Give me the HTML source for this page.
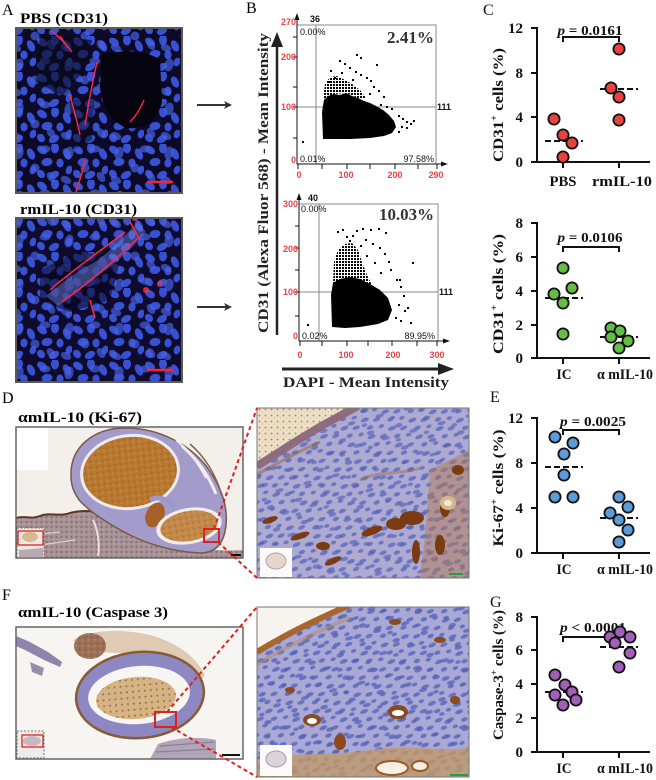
<!DOCTYPE html>
<html><head><meta charset="utf-8">
<style>
html,body{margin:0;padding:0;background:#fff;}
svg{display:block;}
</style></head><body>
<svg width="656" height="780" viewBox="0 0 656 780" xmlns="http://www.w3.org/2000/svg">
<defs>
 <pattern id="nA" width="36" height="36" patternUnits="userSpaceOnUse">
  <g fill="#3850d2">
   <ellipse cx="6" cy="6" rx="5.5" ry="3.6" transform="rotate(35 6 6)"/>
   <ellipse cx="19" cy="4" rx="4" ry="5.5"/>
   <ellipse cx="31" cy="10" rx="3.6" ry="6" transform="rotate(-25 31 10)"/>
   <ellipse cx="11" cy="18" rx="5.5" ry="4" transform="rotate(-10 11 18)"/>
   <ellipse cx="24" cy="19" rx="3.6" ry="4.5"/>
   <ellipse cx="33" cy="26" rx="3.2" ry="4.5" transform="rotate(20 33 26)"/>
   <ellipse cx="5" cy="30" rx="4.5" ry="3.6" transform="rotate(50 5 30)"/>
   <ellipse cx="18" cy="31" rx="5.5" ry="3.6" transform="rotate(-30 18 31)"/>
  </g>
 </pattern>
 <pattern id="nA2" width="50" height="44" patternUnits="userSpaceOnUse" patternTransform="translate(7 11)">
  <g fill="#4560e0">
   <ellipse cx="12" cy="10" rx="4.5" ry="6.5" transform="rotate(15 12 10)"/>
   <ellipse cx="38" cy="6" rx="5.5" ry="3.6"/>
   <ellipse cx="28" cy="25" rx="4.5" ry="4.5"/>
   <ellipse cx="44" cy="34" rx="3.6" ry="5.5" transform="rotate(-35 44 34)"/>
   <ellipse cx="9" cy="37" rx="5.5" ry="3.6" transform="rotate(25 9 37)"/>
  </g>
 </pattern>
 <pattern id="nH" width="22" height="18" patternUnits="userSpaceOnUse" patternTransform="rotate(-22)">
  <g fill="#5a68bc">
   <ellipse cx="5" cy="4" rx="4.2" ry="2"/>
   <ellipse cx="16" cy="8" rx="3.8" ry="1.9"/>
   <ellipse cx="7" cy="13" rx="3.3" ry="2"/>
   <ellipse cx="18" cy="16" rx="2.8" ry="1.7"/>
  </g>
 </pattern>
 <pattern id="nH2" width="29" height="23" patternUnits="userSpaceOnUse" patternTransform="rotate(-15) translate(5 3)">
  <g fill="#5260b8">
   <ellipse cx="9" cy="5" rx="3.8" ry="2.1"/>
   <ellipse cx="22" cy="14" rx="4.2" ry="1.9"/>
   <ellipse cx="5" cy="19" rx="2.8" ry="1.8"/>
  </g>
 </pattern>
 <pattern id="pB" width="6" height="6" patternUnits="userSpaceOnUse">
  <circle cx="1.5" cy="1.5" r="1" fill="#8a4a18"/>
  <circle cx="4.5" cy="4" r="0.9" fill="#e0b27a"/>
 </pattern>
 <pattern id="pT" width="5" height="5" patternUnits="userSpaceOnUse">
  <circle cx="1.5" cy="2" r="1" fill="#6b4a3e"/>
  <circle cx="4" cy="4" r="0.7" fill="#cdb6aa"/>
 </pattern>
 <pattern id="pD" width="3" height="3" patternUnits="userSpaceOnUse">
  <rect x="0" y="0" width="2" height="2" fill="#000"/>
 </pattern>
 <clipPath id="cA1"><rect x="16" y="28" width="166" height="165"/></clipPath>
 <clipPath id="cA2"><rect x="16" y="218" width="166" height="164"/></clipPath>
 <clipPath id="cD1"><rect x="16" y="427" width="227" height="131"/></clipPath>
 <clipPath id="cD2"><rect x="257" y="408" width="212" height="170"/></clipPath>
 <clipPath id="cF1"><rect x="16" y="627" width="227" height="132"/></clipPath>
 <clipPath id="cF2"><rect x="257" y="607" width="212" height="170"/></clipPath>
</defs>

<!-- ============ Panel A ============ -->
<text x="2" y="15" font-family="Liberation Serif, serif" font-size="16">A</text>
<text x="20" y="23" font-family="Liberation Serif, serif" font-size="15" font-weight="bold" textLength="88" lengthAdjust="spacingAndGlyphs">PBS (CD31)</text>
<g clip-path="url(#cA1)">
 <rect x="16" y="28" width="166" height="165" fill="#0c0a26"/>
 <rect x="16" y="28" width="166" height="165" fill="url(#nA)"/>
 <rect x="16" y="28" width="166" height="165" fill="url(#nA2)" opacity="0.7"/>
 <path d="M102,55 C125,48 150,52 160,60 L162,102 C157,120 145,130 127,128 C110,122 101,104 100,85 Z" fill="#05040f"/>
 <path d="M40,34 L92,40 L86,68 L62,96 L36,82 Z" fill="#08081c" opacity="0.6"/>
 <path d="M70,100 L95,95 L92,140 L72,150 Z" fill="#08081c" opacity="0.5"/>
 <g stroke="#ff2a40" fill="none" stroke-width="1.4">
  <path d="M52,31 C60,38 66,44 72,52"/>
  <path d="M60,36 L68,48"/>
  <path d="M97,62 C93,80 89,100 85,125"/>
  <path d="M70,95 C74,110 78,125 80,135"/>
  <path d="M85,160 C82,175 78,185 76,192"/>
  <path d="M130,122 C136,116 140,110 144,100"/>
 </g>
 <line x1="147" y1="182" x2="173" y2="182" stroke="#ff2030" stroke-width="2.5"/>
</g>
<rect x="16" y="28" width="166" height="165" fill="none" stroke="#5a5a5a" stroke-width="2"/>

<text x="20" y="214" font-family="Liberation Serif, serif" font-size="15" font-weight="bold" textLength="117" lengthAdjust="spacingAndGlyphs">rmIL-10 (CD31)</text>
<g clip-path="url(#cA2)">
 <rect x="16" y="218" width="166" height="164" fill="#0e0b2c"/>
 <rect x="16" y="218" width="166" height="164" fill="url(#nA)"/>
 <rect x="16" y="218" width="166" height="164" fill="url(#nA2)" opacity="0.7"/>
 <path d="M40,270 L80,250 L120,262 L110,300 L70,312 L40,300 Z" fill="#0a0822" opacity="0.55"/>
 <path d="M46,296 C60,285 75,272 95,262 C110,252 122,238 138,222 L146,232 C132,248 118,262 100,274 C85,284 72,296 58,306 Z" fill="#7482e6" opacity="0.45"/>
 <g stroke="#ff2a40" fill="none" stroke-width="1.5">
  <path d="M50,290 C70,272 95,255 125,232"/>
  <path d="M62,302 C82,288 105,270 138,238"/>
  <path d="M130,222 L140,240"/>
  <path d="M90,300 L95,318"/>
 </g>
 <circle cx="146" cy="290" r="3" fill="#ff3050" opacity="0.8"/>
 <circle cx="160" cy="283" r="2.5" fill="#ff3050" opacity="0.8"/>
 <circle cx="135" cy="218" r="3" fill="#ff3050" opacity="0.8"/>
 <line x1="147" y1="370" x2="173" y2="370" stroke="#ff2030" stroke-width="2.5"/>
</g>
<rect x="16" y="218" width="166" height="164" fill="none" stroke="#5a5a5a" stroke-width="2"/>

<!-- arrows A->B -->
<g stroke="#333" stroke-width="2" fill="#333">
 <line x1="197" y1="105" x2="228" y2="105"/>
 <line x1="197" y1="307" x2="228" y2="307"/>
</g>
<polygon points="224,101 232,105 224,109 226,105" fill="#333"/>
<polygon points="224,303 232,307 224,311 226,307" fill="#333"/>

<!-- ============ Panel B ============ -->
<text x="246" y="13" font-family="Liberation Serif, serif" font-size="16">B</text>
<line x1="277" y1="335" x2="277" y2="44" stroke="#222" stroke-width="2.5"/>
<polygon points="271,47 277,32 283,47" fill="#222"/>
<text transform="translate(268 183) rotate(-90)" text-anchor="middle" font-family="Liberation Serif, serif" font-size="15" font-weight="bold" textLength="300" lengthAdjust="spacingAndGlyphs" fill="#222">CD31 (Alexa Fluor 568) - Mean Intensity</text>

<!-- top scatter -->
<g font-family="Liberation Sans, sans-serif" font-weight="bold" font-size="9">
 <rect x="297" y="25" width="139" height="139" fill="none" stroke="#888" stroke-width="1"/>
 <line x1="316" y1="25" x2="316" y2="164" stroke="#888" stroke-width="1"/>
 <line x1="297" y1="107" x2="436" y2="107" stroke="#888" stroke-width="1"/>
 <line x1="297" y1="164" x2="297" y2="17" stroke="#111" stroke-width="1"/>
 <polygon points="294.5,20 297,13 299.5,20" fill="#111"/>
 <line x1="297" y1="164" x2="443" y2="164" stroke="#111" stroke-width="1"/>
 <polygon points="441,161.5 448,164 441,166.5" fill="#111"/>
 <g stroke="#111" stroke-width="1">
  <line x1="293" y1="37" x2="297" y2="37"/><line x1="293" y1="57" x2="297" y2="57"/><line x1="293" y1="87" x2="297" y2="87"/><line x1="293" y1="107" x2="297" y2="107"/><line x1="293" y1="138" x2="297" y2="138"/>
  <line x1="298" y1="164" x2="298" y2="169"/><line x1="322" y1="164" x2="322" y2="169"/><line x1="347" y1="164" x2="347" y2="169"/><line x1="370" y1="164" x2="370" y2="169"/><line x1="395" y1="164" x2="395" y2="169"/><line x1="418" y1="164" x2="418" y2="169"/><line x1="437" y1="164" x2="437" y2="169"/>
 </g>
 <g fill="#e8434a" text-anchor="end">
  <text x="296" y="25">270</text><text x="296" y="60">200</text><text x="296" y="110">100</text><text x="296" y="163">0</text>
 </g>
 <g fill="#e8434a" text-anchor="middle">
  <text x="299" y="178">0</text><text x="346" y="178">100</text><text x="395" y="178">200</text><text x="436" y="178">290</text>
 </g>
 <text x="310" y="22" fill="#111">36</text>
 <text x="300" y="35" fill="#111" font-weight="normal">0.00%</text>
 <text x="437" y="110" fill="#111">111</text>
 <text x="300" y="162" fill="#111" font-weight="normal">0.01%</text>
 <text x="434" y="162" fill="#111" font-weight="normal" text-anchor="end">97.58%</text>
</g>
<text x="434" y="43" text-anchor="end" font-family="Liberation Serif, serif" font-size="17" font-weight="bold" fill="#333" textLength="47" lengthAdjust="spacingAndGlyphs">2.41%</text>
<path d="M323,139 L322,112 L324,100 L328,96 L334,94 L340,95 L346,93 L352,96 L358,98 L364,101 L370,103 L376,106 L383,110 L389,115 L394,121 L396,127 L392,133 L384,136 L370,138 L350,139 Z" fill="#000"/>
<path d="M323,100 L325,84 L330,77 L337,76 L345,80 L352,84 L360,90 L366,98 L358,98 L346,93 L334,94 Z" fill="url(#pD)"/>
<g fill="#000">
 <rect x="356" y="54" width="2" height="2"/><rect x="360" y="57" width="2" height="2"/><rect x="339" y="60" width="2" height="2"/><rect x="344" y="63" width="2" height="2"/><rect x="349" y="67" width="2" height="2"/><rect x="376" y="64" width="2" height="2"/><rect x="355" y="71" width="2" height="2"/><rect x="360" y="74" width="2" height="2"/><rect x="334" y="77" width="2" height="2"/><rect x="366" y="77" width="2" height="2"/><rect x="370" y="80" width="2" height="2"/><rect x="328" y="81" width="2" height="2"/><rect x="352" y="79" width="2" height="2"/><rect x="373" y="86" width="2" height="2"/><rect x="378" y="90" width="2" height="2"/><rect x="383" y="96" width="2" height="2"/><rect x="369" y="93" width="2" height="2"/><rect x="380" y="104" width="2" height="2"/><rect x="386" y="106" width="2" height="2"/><rect x="391" y="108" width="2" height="2"/><rect x="398" y="115" width="2" height="2"/><rect x="402" y="118" width="2" height="2"/><rect x="406" y="121" width="2" height="2"/><rect x="410" y="123" width="2" height="2"/><rect x="413" y="120" width="2" height="2"/><rect x="406" y="127" width="2" height="2"/><rect x="401" y="126" width="2" height="2"/><rect x="398" y="131" width="2" height="2"/><rect x="302" y="141" width="2" height="2"/><rect x="330" y="70" width="2" height="2"/><rect x="341" y="72" width="2" height="2"/>
</g>

<!-- bottom scatter -->
<g font-family="Liberation Sans, sans-serif" font-weight="bold" font-size="9">
 <rect x="299" y="204" width="139" height="137" fill="none" stroke="#888" stroke-width="1"/>
 <line x1="319" y1="204" x2="319" y2="341" stroke="#888" stroke-width="1"/>
 <line x1="299" y1="292" x2="438" y2="292" stroke="#888" stroke-width="1"/>
 <line x1="299" y1="341" x2="299" y2="197" stroke="#111" stroke-width="1"/>
 <polygon points="296.5,200 299,193 301.5,200" fill="#111"/>
 <line x1="299" y1="341" x2="445" y2="341" stroke="#111" stroke-width="1"/>
 <polygon points="443,338.5 450,341 443,343.5" fill="#111"/>
 <g stroke="#111" stroke-width="1">
  <line x1="295" y1="226" x2="299" y2="226"/><line x1="295" y1="248" x2="299" y2="248"/><line x1="295" y1="270" x2="299" y2="270"/><line x1="295" y1="292" x2="299" y2="292"/><line x1="295" y1="316" x2="299" y2="316"/>
  <line x1="300" y1="341" x2="300" y2="346"/><line x1="322" y1="341" x2="322" y2="346"/><line x1="347" y1="341" x2="347" y2="346"/><line x1="368" y1="341" x2="368" y2="346"/><line x1="392" y1="341" x2="392" y2="346"/><line x1="417" y1="341" x2="417" y2="346"/><line x1="437" y1="341" x2="437" y2="346"/>
 </g>
 <g fill="#e8434a" text-anchor="end">
  <text x="298" y="207">300</text><text x="298" y="252">200</text><text x="298" y="295">100</text><text x="298" y="339">0</text>
 </g>
 <g fill="#e8434a" text-anchor="middle">
  <text x="300" y="358">0</text><text x="346" y="358">100</text><text x="393" y="358">200</text><text x="437" y="358">300</text>
 </g>
 <text x="308" y="201" fill="#111">40</text>
 <text x="301" y="212" fill="#111" font-weight="normal">0.00%</text>
 <text x="439" y="295" fill="#111">111</text>
 <text x="302" y="339" fill="#111" font-weight="normal">0.02%</text>
 <text x="435" y="339" fill="#111" font-weight="normal" text-anchor="end">89.95%</text>
</g>
<text x="434" y="220" text-anchor="end" font-family="Liberation Serif, serif" font-size="17" font-weight="bold" fill="#333" textLength="55" lengthAdjust="spacingAndGlyphs">10.03%</text>
<path d="M332,327 L331,295 L333,283 L340,279 L350,277 L360,279 L370,284 L380,290 L388,298 L392,310 L388,320 L378,324 L360,327 L345,328 Z" fill="#000"/>
<path d="M333,284 L334,262 L338,250 L345,244 L352,243 L358,250 L362,262 L367,275 L372,285 L360,279 L340,279 Z" fill="url(#pD)"/>
<g fill="#000">
 <rect x="337" y="231" width="2" height="2"/><rect x="342" y="229" width="2" height="2"/><rect x="356" y="230" width="2" height="2"/><rect x="362" y="228" width="2" height="2"/><rect x="370" y="229" width="2" height="2"/><rect x="378" y="228" width="2" height="2"/><rect x="385" y="232" width="2" height="2"/><rect x="346" y="236" width="2" height="2"/><rect x="352" y="235" width="2" height="2"/><rect x="365" y="239" width="2" height="2"/><rect x="372" y="243" width="2" height="2"/><rect x="379" y="247" width="2" height="2"/><rect x="384" y="253" width="2" height="2"/><rect x="388" y="261" width="2" height="2"/><rect x="390" y="269" width="2" height="2"/><rect x="396" y="279" width="2" height="2"/><rect x="400" y="286" width="2" height="2"/><rect x="403" y="295" width="2" height="2"/><rect x="398" y="304" width="2" height="2"/><rect x="404" y="310" width="2" height="2"/><rect x="407" y="307" width="2" height="2"/><rect x="395" y="317" width="2" height="2"/><rect x="400" y="320" width="2" height="2"/><rect x="410" y="322" width="2" height="2"/><rect x="412" y="262" width="2" height="2"/><rect x="399" y="279" width="2" height="2"/><rect x="307" y="324" width="2" height="2"/><rect x="366" y="255" width="2" height="2"/><rect x="374" y="262" width="2" height="2"/><rect x="380" y="272" width="2" height="2"/><rect x="349" y="240" width="2" height="2"/><rect x="360" y="245" width="2" height="2"/>
</g>
<line x1="282" y1="369" x2="440" y2="369" stroke="#222" stroke-width="3"/>
<polygon points="438,363 454,369 438,375" fill="#222"/>
<text x="283" y="387" font-family="Liberation Serif, serif" font-size="15" font-weight="bold" fill="#222" textLength="166" lengthAdjust="spacingAndGlyphs">DAPI - Mean Intensity</text>

<!-- ============ Charts ============ -->
<g font-family="Liberation Serif, serif" font-weight="bold" fill="#111">
<text x="483" y="15" font-size="16" font-weight="normal">C</text>
<g stroke="#111" stroke-width="2" fill="none">
 <line x1="537" y1="27" x2="537" y2="163"/>
 <line x1="536" y1="162" x2="650" y2="162"/>
 <line x1="531" y1="28" x2="537" y2="28"/><line x1="531" y1="73" x2="537" y2="73"/><line x1="531" y1="117" x2="537" y2="117"/><line x1="531" y1="162" x2="537" y2="162"/>
 <line x1="563" y1="162" x2="563" y2="168"/><line x1="619" y1="162" x2="619" y2="168"/>
</g>
<g font-size="15" text-anchor="end"><text x="523" y="33">12</text><text x="523" y="78">8</text><text x="523" y="122">4</text><text x="523" y="167">0</text></g>
<g font-size="15" text-anchor="middle"><text x="563" y="186" textLength="27" lengthAdjust="spacingAndGlyphs">PBS</text><text x="622" y="186" textLength="60" lengthAdjust="spacingAndGlyphs">rmIL-10</text></g>
<text transform="translate(503 105) rotate(-90)" text-anchor="middle" font-size="14.5" textLength="114" lengthAdjust="spacingAndGlyphs">CD31<tspan font-size="9" dy="-6">+</tspan><tspan dy="6"> cells (%)</tspan></text>
<text x="590" y="35" text-anchor="middle" font-size="13.5" textLength="65" lengthAdjust="spacingAndGlyphs"><tspan font-style="italic">p</tspan> = 0.0161</text>
<path d="M563,42 L563,37 L619,37 L619,42" stroke="#111" stroke-width="2" fill="none"/>
<g stroke="#111" stroke-width="2" stroke-dasharray="6,3"><line x1="545" y1="141" x2="583" y2="141"/><line x1="600" y1="89" x2="638" y2="89"/></g>
<g fill="#e8433f" stroke="#111" stroke-width="1.8">
 <circle cx="554" cy="119" r="5.6"/><circle cx="563" cy="135" r="5.6"/><circle cx="572" cy="143" r="5.6"/><circle cx="563" cy="157" r="5.6"/>
 <circle cx="619" cy="49" r="5.6"/><circle cx="611" cy="88" r="5.6"/><circle cx="619" cy="97" r="5.6"/><circle cx="619" cy="120" r="5.6"/>
</g>

<g stroke="#111" stroke-width="2" fill="none">
 <line x1="537" y1="222" x2="537" y2="359"/>
 <line x1="536" y1="358" x2="650" y2="358"/>
 <line x1="531" y1="223" x2="537" y2="223"/><line x1="531" y1="257" x2="537" y2="257"/><line x1="531" y1="291" x2="537" y2="291"/><line x1="531" y1="325" x2="537" y2="325"/><line x1="531" y1="358" x2="537" y2="358"/>
 <line x1="563" y1="358" x2="563" y2="364"/><line x1="619" y1="358" x2="619" y2="364"/>
</g>
<g font-size="15" text-anchor="end"><text x="523" y="228">8</text><text x="523" y="262">6</text><text x="523" y="296">4</text><text x="523" y="330">2</text><text x="523" y="363">0</text></g>
<g font-size="15" text-anchor="middle"><text x="564" y="379" textLength="15" lengthAdjust="spacingAndGlyphs">IC</text><text x="625" y="379" textLength="56" lengthAdjust="spacingAndGlyphs">α mIL-10</text></g>
<text transform="translate(503 294) rotate(-90)" text-anchor="middle" font-size="14.5" textLength="120" lengthAdjust="spacingAndGlyphs">CD31<tspan font-size="9" dy="-6">+</tspan><tspan dy="6"> cells (%)</tspan></text>
<text x="590" y="242" text-anchor="middle" font-size="13.5" textLength="65" lengthAdjust="spacingAndGlyphs"><tspan font-style="italic">p</tspan> = 0.0106</text>
<path d="M563,252 L563,247 L619,247 L619,252" stroke="#111" stroke-width="2" fill="none"/>
<g stroke="#111" stroke-width="2" stroke-dasharray="6,3"><line x1="545" y1="298" x2="583" y2="298"/><line x1="600" y1="337" x2="638" y2="337"/></g>
<g fill="#66bd45" stroke="#111" stroke-width="1.8">
 <circle cx="563" cy="268" r="5.6"/><circle cx="572" cy="288" r="5.6"/><circle cx="554" cy="294" r="5.6"/><circle cx="563" cy="303" r="5.6"/><circle cx="563" cy="334" r="5.6"/>
 <circle cx="611" cy="328" r="5.6"/><circle cx="620" cy="331" r="5.6"/><circle cx="611" cy="337" r="5.6"/><circle cx="628" cy="341" r="5.6"/><circle cx="619" cy="348" r="5.6"/>
</g>

<text x="490" y="402" font-size="16" font-weight="normal">E</text>
<g stroke="#111" stroke-width="2" fill="none">
 <line x1="537" y1="417" x2="537" y2="554"/>
 <line x1="536" y1="553" x2="650" y2="553"/>
 <line x1="531" y1="418" x2="537" y2="418"/><line x1="531" y1="463" x2="537" y2="463"/><line x1="531" y1="508" x2="537" y2="508"/><line x1="531" y1="553" x2="537" y2="553"/>
 <line x1="563" y1="553" x2="563" y2="559"/><line x1="619" y1="553" x2="619" y2="559"/>
</g>
<g font-size="15" text-anchor="end"><text x="523" y="423">12</text><text x="523" y="468">8</text><text x="523" y="513">4</text><text x="523" y="558">0</text></g>
<g font-size="15" text-anchor="middle"><text x="564" y="574" textLength="15" lengthAdjust="spacingAndGlyphs">IC</text><text x="625" y="574" textLength="56" lengthAdjust="spacingAndGlyphs">α mIL-10</text></g>
<text transform="translate(503 488) rotate(-90)" text-anchor="middle" font-size="14.5" textLength="117" lengthAdjust="spacingAndGlyphs">Ki-67<tspan font-size="9" dy="-6">+</tspan><tspan dy="6"> cells (%)</tspan></text>
<text x="593" y="426" text-anchor="middle" font-size="13.5" textLength="66" lengthAdjust="spacingAndGlyphs"><tspan font-style="italic">p</tspan> = 0.0025</text>
<path d="M563,435 L563,430 L619,430 L619,435" stroke="#111" stroke-width="2" fill="none"/>
<g stroke="#111" stroke-width="2" stroke-dasharray="6,3"><line x1="545" y1="467" x2="583" y2="467"/><line x1="600" y1="518" x2="638" y2="518"/></g>
<g fill="#5b9bd8" stroke="#111" stroke-width="1.8">
 <circle cx="555" cy="437" r="5.6"/><circle cx="573" cy="443" r="5.6"/><circle cx="564" cy="454" r="5.6"/><circle cx="564" cy="475" r="5.6"/><circle cx="555" cy="497" r="5.6"/><circle cx="573" cy="497" r="5.6"/>
 <circle cx="619" cy="497" r="5.6"/><circle cx="628" cy="507" r="5.6"/><circle cx="610" cy="513" r="5.6"/><circle cx="619" cy="520" r="5.6"/><circle cx="628" cy="530" r="5.6"/><circle cx="619" cy="542" r="5.6"/>
</g>

<text x="490" y="607" font-size="16" font-weight="normal">G</text>
<g stroke="#111" stroke-width="2" fill="none">
 <line x1="537" y1="616" x2="537" y2="753"/>
 <line x1="536" y1="752" x2="650" y2="752"/>
 <line x1="531" y1="617" x2="537" y2="617"/><line x1="531" y1="650" x2="537" y2="650"/><line x1="531" y1="684" x2="537" y2="684"/><line x1="531" y1="718" x2="537" y2="718"/><line x1="531" y1="752" x2="537" y2="752"/>
 <line x1="563" y1="752" x2="563" y2="758"/><line x1="619" y1="752" x2="619" y2="758"/>
</g>
<g font-size="15" text-anchor="end"><text x="523" y="622">8</text><text x="523" y="655">6</text><text x="523" y="689">4</text><text x="523" y="723">2</text><text x="523" y="757">0</text></g>
<g font-size="15" text-anchor="middle"><text x="564" y="773" textLength="15" lengthAdjust="spacingAndGlyphs">IC</text><text x="625" y="773" textLength="56" lengthAdjust="spacingAndGlyphs">α mIL-10</text></g>
<text transform="translate(503 675) rotate(-90)" text-anchor="middle" font-size="14.5" textLength="130" lengthAdjust="spacingAndGlyphs">Caspase-3<tspan font-size="9" dy="-6">+</tspan><tspan dy="6"> cells (%)</tspan></text>
<text x="593" y="632" text-anchor="middle" font-size="13.5" textLength="66" lengthAdjust="spacingAndGlyphs"><tspan font-style="italic">p</tspan> &lt; 0.0001</text>
<path d="M563,642 L563,637 L619,637 L619,642" stroke="#111" stroke-width="2" fill="none"/>
<g stroke="#111" stroke-width="2" stroke-dasharray="6,3"><line x1="545" y1="692" x2="583" y2="692"/><line x1="600" y1="647" x2="638" y2="647"/></g>
<g fill="#a25fb8" stroke="#111" stroke-width="1.8">
 <circle cx="555" cy="675" r="5.6"/><circle cx="565" cy="685" r="5.6"/><circle cx="572" cy="692" r="5.6"/><circle cx="555" cy="695" r="5.6"/><circle cx="576" cy="700" r="5.6"/><circle cx="563" cy="705" r="5.6"/>
 <circle cx="610" cy="637" r="5.6"/><circle cx="620" cy="632" r="5.6"/><circle cx="630" cy="637" r="5.6"/><circle cx="615" cy="643" r="5.6"/><circle cx="630" cy="653" r="5.6"/><circle cx="619" cy="667" r="5.6"/>
</g>
</g>

<!-- ============ Panel D ============ -->
<text x="2" y="403" font-family="Liberation Serif, serif" font-size="16">D</text>
<text x="18" y="422" font-family="Liberation Serif, serif" font-size="15" font-weight="bold" textLength="124" lengthAdjust="spacingAndGlyphs">αmIL-10 (Ki-67)</text>
<g clip-path="url(#cD1)">
 <rect x="16" y="427" width="227" height="131" fill="#f3efea"/>
 <rect x="16" y="427" width="32" height="43" fill="#ffffff"/>
 <!-- bottom tissue -->
 <path d="M16,518 C25,515 30,520 40,516 C50,512 60,517 70,513 C85,509 100,512 110,514 C125,518 140,528 160,538 C185,548 215,552 243,550 L243,560 L16,560 Z" fill="#a7929a"/>
 <path d="M16,518 C25,515 30,520 40,516 C50,512 60,517 70,513 C85,509 100,512 110,514 C125,518 140,528 160,538 C185,548 215,552 243,550 L243,560 L16,560 Z" fill="url(#pT)" opacity="0.55"/>
 <path d="M16,518 C25,515 30,520 40,516 C50,512 60,517 70,513 C85,509 100,512 110,514 C125,518 140,528 160,538" stroke="#5e3420" stroke-width="2" fill="none"/>
 <path d="M93,520 C98,530 100,545 98,556" stroke="#e8dede" stroke-width="2" fill="none"/>
 <path d="M30,535 L60,532 M40,545 L75,540" stroke="#ddd0d0" stroke-width="1.2"/>
 <!-- organ -->
 <path d="M71,476 C70,446 95,428 125,428 C160,428 190,445 207,467 C221,487 228,505 226,525 C224,545 214,553 200,553 C175,552 150,545 130,535 C110,525 90,512 80,501 C74,493 71,486 71,476 Z" fill="#a39ccb" stroke="#7a5a48" stroke-width="1.5"/>
 <path d="M182,446 C196,458 208,474 216,494" stroke="#f1edf2" stroke-width="3" fill="none"/>
 <path d="M190,444 C204,456 216,474 222,496" stroke="#8a6050" stroke-width="1.5" fill="none"/>
 <path d="M176,440 C188,450 198,462 206,478" stroke="#f1edf2" stroke-width="2" fill="none"/>
 <ellipse cx="130" cy="472" rx="50" ry="38" transform="rotate(-6 130 472)" fill="#efeaf0"/>
 <ellipse cx="130" cy="472" rx="47" ry="35" transform="rotate(-6 130 472)" fill="#b8782f"/>
 <ellipse cx="130" cy="472" rx="47" ry="35" transform="rotate(-6 130 472)" fill="url(#pB)" opacity="0.4"/>
 <path d="M150,500 C160,495 168,500 175,508" stroke="#9e96cc" stroke-width="5" fill="none"/>
 <ellipse cx="155" cy="515" rx="9" ry="13" transform="rotate(25 155 515)" fill="#a8602a"/>
 <ellipse cx="189" cy="526" rx="33" ry="18" transform="rotate(-10 189 526)" fill="#f2eef0"/>
 <ellipse cx="189" cy="526" rx="29" ry="15" transform="rotate(-10 189 526)" fill="#c3894a"/>
 <ellipse cx="189" cy="526" rx="29" ry="15" transform="rotate(-10 189 526)" fill="url(#pB)" opacity="0.4"/>
 <rect x="204" y="529" width="15" height="13" fill="none" stroke="#e0201e" stroke-width="2"/>
 <rect x="17" y="528" width="27" height="30" fill="#eee9e4" stroke="#777" stroke-width="1" stroke-dasharray="2,1.5"/>
 <ellipse cx="30" cy="537" rx="8" ry="5" fill="#d9b890"/>
 <path d="M19,550 L43,548 L43,557 L19,557 Z" fill="#b8aab0"/>
 <rect x="18" y="531" width="25" height="14" fill="none" stroke="#e0201e" stroke-width="1.3"/>
 <line x1="231" y1="555" x2="241" y2="555" stroke="#111" stroke-width="2"/>
</g>
<rect x="16" y="427" width="227" height="131" fill="none" stroke="#666" stroke-width="1.5"/>

<g clip-path="url(#cD2)">
 <rect x="257" y="408" width="212" height="170" fill="#aeaad2"/>
 <rect x="257" y="408" width="212" height="170" fill="url(#nH)" opacity="0.8"/>
 <rect x="257" y="408" width="212" height="170" fill="url(#nH2)" opacity="0.65"/>
 <path d="M257,408 L356,408 C333,420 303,436 283,449 L257,464 Z" fill="#ede0c8"/>
 <path d="M257,408 L356,408 C333,420 303,436 283,449 L257,464 Z" fill="url(#pB)" opacity="0.55"/>
 <path d="M257,466 C275,455 300,438 325,424 L358,406" stroke="#8e6c7e" stroke-width="8" fill="none"/>
 <path d="M257,474 C280,463 300,450 320,442" stroke="#9c6a4a" stroke-width="3" fill="none" opacity="0.6"/>
 <path d="M430,470 L469,450 L469,578 L420,578 C425,540 428,500 430,470 Z" fill="#b07a50" opacity="0.5"/>
 <g fill="#7a3a12">
  <ellipse cx="300" cy="536" rx="10" ry="3" transform="rotate(-20 300 536)"/>
  <ellipse cx="323" cy="546" rx="7" ry="4"/>
  <ellipse cx="333" cy="561" rx="9" ry="3" transform="rotate(-25 333 561)"/>
  <ellipse cx="372" cy="531" rx="11" ry="4" transform="rotate(-20 372 531)"/>
  <ellipse cx="396" cy="524" rx="10" ry="6"/>
  <ellipse cx="412" cy="518" rx="12" ry="7"/>
  <ellipse cx="416" cy="552" rx="4" ry="12"/>
  <ellipse cx="445" cy="508" rx="5" ry="9"/>
  <ellipse cx="458" cy="470" rx="6" ry="5"/>
  <ellipse cx="270" cy="520" rx="8" ry="3" transform="rotate(-20 270 520)"/>
  <ellipse cx="440" cy="545" rx="5" ry="10"/>
 </g>
 <ellipse cx="448" cy="503" rx="8" ry="7" fill="#d6b88a"/>
 <ellipse cx="448" cy="503" rx="4" ry="3" fill="#f2ead8"/>
 <path d="M360,480 C380,470 400,475 420,468" stroke="#a07050" stroke-width="3" fill="none" opacity="0.5"/>
 <rect x="260" y="548" width="32" height="29" fill="#fbfaf8"/>
 <ellipse cx="276" cy="561" rx="10" ry="8" fill="#e4d6c8" stroke="#b0a0b4" stroke-width="1"/>
 <line x1="449" y1="574" x2="463" y2="574" stroke="#1ea040" stroke-width="2"/>
</g>
<rect x="257" y="408" width="212" height="170" fill="none" stroke="#777" stroke-width="1"/>
<g stroke="#e0201e" stroke-width="2" stroke-dasharray="4,3" fill="none">
 <line x1="214" y1="529" x2="257" y2="408"/>
 <line x1="218" y1="542" x2="257" y2="578"/>
</g>

<!-- ============ Panel F ============ -->
<text x="2" y="600" font-family="Liberation Serif, serif" font-size="16">F</text>
<text x="18" y="617" font-family="Liberation Serif, serif" font-size="15" font-weight="bold" textLength="150" lengthAdjust="spacingAndGlyphs">αmIL-10 (Caspase 3)</text>
<g clip-path="url(#cF1)">
 <rect x="16" y="627" width="227" height="132" fill="#f7f5f2"/>
 <path d="M16,636 L30,642 L48,652 L62,662 L60,667 L44,660 L25,650 L16,646 Z" fill="#8e84ac"/>
 <path d="M30,662 L44,668 L42,676 L32,672 Z" fill="#9a8ca8"/>
 <path d="M73,640 C90,630 120,628 150,635 C175,642 195,655 205,675 L198,685 C185,668 165,658 140,654 C110,652 85,655 73,640 Z" fill="#d8c0a4" opacity="0.8"/>
 <ellipse cx="90" cy="646" rx="16" ry="13" fill="#9a7058"/>
 <ellipse cx="90" cy="646" rx="16" ry="13" fill="url(#pB)" opacity="0.5"/>
 <ellipse cx="140" cy="695" rx="64" ry="43" transform="rotate(-5 140 695)" fill="#8e88c2" stroke="#8a5a34" stroke-width="2.5"/>
 <ellipse cx="139" cy="695" rx="51" ry="29" transform="rotate(-5 139 695)" fill="#f8f6f3"/>
 <ellipse cx="136" cy="698" rx="40" ry="21" transform="rotate(-5 136 698)" fill="#d4b385"/>
 <ellipse cx="136" cy="698" rx="40" ry="21" transform="rotate(-5 136 698)" fill="url(#pB)" opacity="0.7"/>
 <path d="M150,759 L158,744 C175,738 198,736 216,740 L216,759 Z" fill="#b0a6b8"/>
 <g stroke="#8a7f98" stroke-width="1.2"><line x1="160" y1="746" x2="214" y2="742"/><line x1="156" y1="752" x2="214" y2="749"/></g>
 <rect x="155" y="712" width="21" height="15" fill="none" stroke="#e0201e" stroke-width="2"/>
 <rect x="17" y="731" width="27" height="27" fill="#eeebe8" stroke="#777" stroke-width="1" stroke-dasharray="2,1.5"/>
 <ellipse cx="32" cy="741" rx="9" ry="5" fill="#c9b8c0"/>
 <rect x="22" y="735" width="21" height="12" fill="none" stroke="#e0201e" stroke-width="1.3"/>
 <line x1="222" y1="755" x2="240" y2="755" stroke="#111" stroke-width="2"/>
</g>
<rect x="16" y="627" width="227" height="132" fill="none" stroke="#666" stroke-width="1.5"/>

<g clip-path="url(#cF2)">
 <rect x="257" y="607" width="212" height="170" fill="#aaa8d4"/>
 <rect x="257" y="607" width="212" height="170" fill="url(#nH)" opacity="0.85"/>
 <rect x="257" y="607" width="212" height="170" fill="url(#nH2)" opacity="0.75"/>
 <path d="M257,607 L348,607 C320,618 290,632 257,652 Z" fill="#f7f3ee"/>
 <path d="M257,652 C290,632 320,618 350,605" stroke="#a8652c" stroke-width="6" fill="none"/>
 <path d="M257,664 C290,645 320,630 350,618" stroke="#b88a62" stroke-width="4" fill="none" opacity="0.5"/>
 <g fill="#8a4a1c">
  <ellipse cx="395" cy="622" rx="6" ry="3"/>
  <ellipse cx="312" cy="720" rx="9" ry="6"/>
  <ellipse cx="340" cy="742" rx="6" ry="8"/>
  <ellipse cx="398" cy="712" rx="10" ry="7"/>
  <ellipse cx="290" cy="690" rx="5" ry="3"/>
  <ellipse cx="440" cy="640" rx="6" ry="3"/>
  <ellipse cx="455" cy="700" rx="5" ry="4"/>
 </g>
 <ellipse cx="312" cy="721" rx="5" ry="3" fill="#fff"/>
 <ellipse cx="398" cy="713" rx="6" ry="3" fill="#fff"/>
 <path d="M257,760 C290,752 330,756 370,750 C410,744 440,752 469,748 L469,777 L257,777 Z" fill="#c09868" opacity="0.8"/>
 <ellipse cx="392" cy="768" rx="16" ry="7" fill="#f6efe6" stroke="#9a5a24" stroke-width="2"/>
 <ellipse cx="420" cy="766" rx="8" ry="5" fill="#f6efe6" stroke="#9a5a24" stroke-width="2"/>
 <rect x="260" y="745" width="32" height="31" fill="#fbfaf8"/>
 <ellipse cx="276" cy="759" rx="10" ry="8" fill="#ddd2d8" stroke="#a898aa" stroke-width="1"/>
 <line x1="450" y1="775" x2="468" y2="775" stroke="#1ea040" stroke-width="2"/>
</g>
<rect x="257" y="607" width="212" height="170" fill="none" stroke="#777" stroke-width="1"/>
<g stroke="#e0201e" stroke-width="2" stroke-dasharray="4,3" fill="none">
 <line x1="167" y1="712" x2="257" y2="607"/>
 <line x1="171" y1="727" x2="257" y2="777"/>
</g>
</svg>
</body></html>
